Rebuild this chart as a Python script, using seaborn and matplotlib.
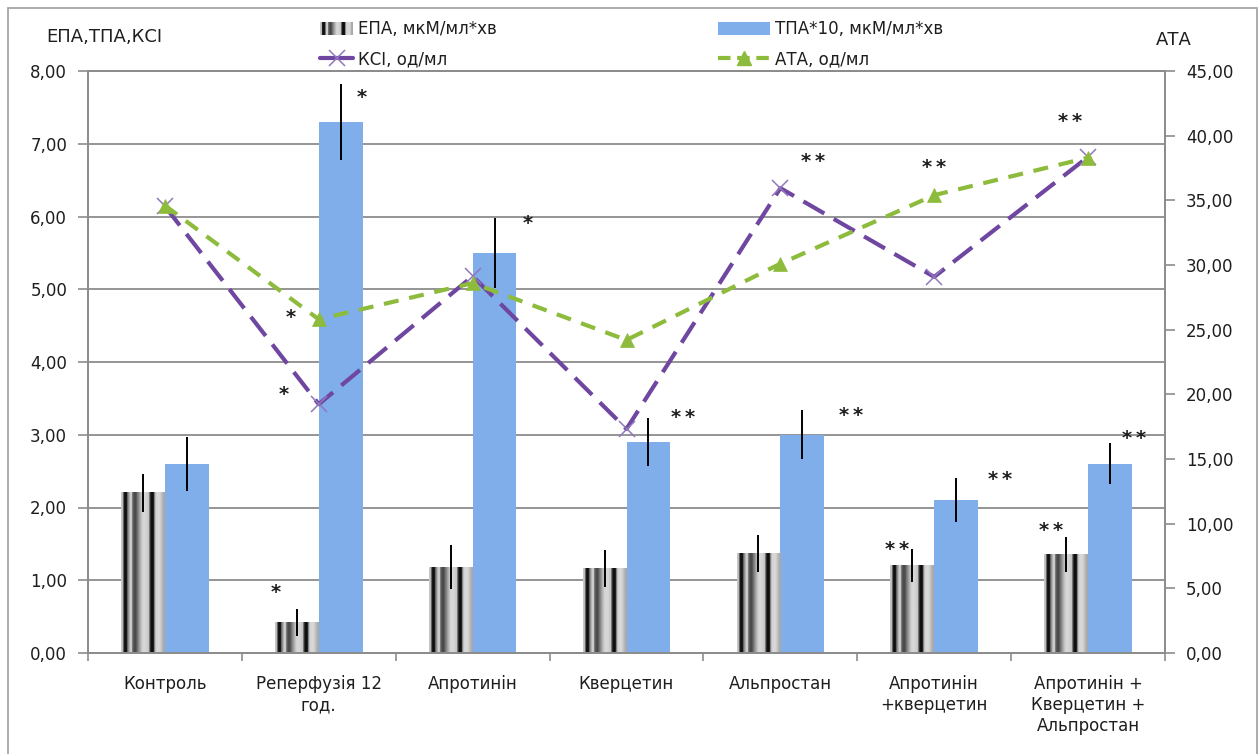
import numpy as np
import pandas as pd
import matplotlib
matplotlib.use("Agg")
import matplotlib.pyplot as plt
import seaborn as sns
from matplotlib.patches import Rectangle
from matplotlib.lines import Line2D
from matplotlib.legend_handler import HandlerBase
from matplotlib.ticker import FuncFormatter, MultipleLocator

# ---- data -------------------------------------------------------------
groups = ["Контроль", "Реперфузія 12\nгод.", "Апротинін", "Кверцетин",
          "Альпростан", "Апротинін\n+кверцетин",
          "Апротинін +\nКверцетин +\nАльпростан"]
epa = [2.20, 0.42, 1.18, 1.16, 1.37, 1.20, 1.35]
epa_err = [0.26, 0.19, 0.30, 0.25, 0.25, 0.23, 0.24]
tpa10 = [2.60, 7.30, 5.50, 2.90, 3.00, 2.10, 2.60]
tpa10_err = [0.37, 0.52, 0.48, 0.33, 0.34, 0.30, 0.28]
ksi = [6.14, 3.42, 5.18, 3.08, 6.39, 5.17, 6.82]
ata = [34.6, 25.8, 28.6, 24.2, 30.1, 35.4, 38.3]

series_names = ["ЕПА, мкМ/мл*хв", "ТПА*10, мкМ/мл*хв", "КСІ, од/мл", "АТА, од/мл"]

# significance marks: (x, y on left axis, text)
marks_x = [0.72, 1.28, 0.77, 0.82, 2.36, 3.37, 4.21, 4.46, 4.76, 5.43, 5.00, 5.76, 6.30, 5.88]
marks_y = [0.83, 7.64, 3.55, 4.61, 5.91, 3.24, 6.75, 3.26, 1.42, 2.38, 6.67, 1.69, 2.95, 7.31]
marks_t = ["*", "*", "*", "*", "*", "**", "**", "**", "**", "**", "**", "**", "**", "**"]

# ---- style ------------------------------------------------------------
sns.set_theme(style="white")
plt.rcParams["font.family"] = ["DejaVu Sans"]
TXT = "#1e1e1e"
GRID = "#8c8c8c"
BLUE = "#7FAEEA"
PURPLE = "#6F46A0"
PURPLE_MK = "#9277BE"
GREEN = "#8DBB3C"

# grey levels of the striped fill, left to right across one bar
stripe = np.array([0.78, 0.72, 0.12, 0.06, 0.10, 0.45, 0.62, 0.80, 0.82, 0.45,
                   0.32, 0.28, 0.33, 0.45, 0.55, 0.66, 0.74, 0.82, 0.84, 0.84,
                   0.83, 0.80, 0.78, 0.40, 0.08, 0.05, 0.08, 0.55, 0.82, 0.84,
                   0.85, 0.84, 0.80, 0.74, 0.68, 0.66])

fig = plt.figure(figsize=(12.6, 7.54), dpi=100)
ax = fig.add_axes([88 / 1260, 1 - 653 / 754, (1165 - 88) / 1260, (653 - 71) / 754])

df = pd.DataFrame({
    "group": groups * 2,
    "series": [series_names[0]] * len(groups) + [series_names[1]] * len(groups),
    "value": epa + tpa10,
})
sns.barplot(data=df, x="group", y="value", hue="series",
            palette=["#bfbfbf", BLUE], width=0.57, gap=0, saturation=1,
            errorbar=None, legend=False, ax=ax, zorder=2,
            edgecolor="none", linewidth=0)

epa_bars = ax.containers[0]
tpa_bars = ax.containers[1]

# striped fill on the ЕПА bars
for bar in epa_bars:
    x0, w, h = bar.get_x(), bar.get_width(), bar.get_height()
    ax.imshow(stripe[None, :], cmap="gray", vmin=0, vmax=1,
              extent=(x0, x0 + w, 0, h), aspect="auto",
              interpolation="bilinear", zorder=2.1)

# error bars
epa_x = [b.get_x() + b.get_width() / 2 for b in epa_bars]
tpa_x = [b.get_x() + b.get_width() / 2 for b in tpa_bars]
ax.errorbar(epa_x, epa, yerr=epa_err, fmt="none", ecolor="black",
            elinewidth=1.4, capsize=0, zorder=4)
ax.errorbar(tpa_x, tpa10, yerr=tpa10_err, fmt="none", ecolor="black",
            elinewidth=1.4, capsize=0, zorder=4)

xpos = np.arange(len(groups))
sns.lineplot(x=xpos, y=ksi, ax=ax, color=PURPLE, lw=3.0,
             linestyle=(0, (5.8, 2.6)), marker="x", markersize=11,
             markeredgecolor=PURPLE_MK, markeredgewidth=1.1, zorder=5)

ax2 = ax.twinx()
sns.lineplot(x=xpos, y=ata, ax=ax2, color=GREEN, lw=3.0,
             linestyle=(0, (3.6, 2.6)), marker="^", markersize=10,
             markerfacecolor=GREEN, markeredgecolor=GREEN,
             markeredgewidth=0.5, zorder=5)

# ---- axes -------------------------------------------------------------
ax.set_xlim(-0.5, len(groups) - 0.5)
ax.set_ylim(0, 8)
ax2.set_ylim(0, 45)
ax.yaxis.set_major_locator(MultipleLocator(1))
ax2.yaxis.set_major_locator(MultipleLocator(5))
fmt = FuncFormatter(lambda v, p: f"{v:.2f}".replace(".", ","))
ax.yaxis.set_major_formatter(fmt)
ax2.yaxis.set_major_formatter(fmt)

ax.set_xticks(xpos)
ax.set_xticklabels(groups, fontsize=12, color=TXT)
ax.set_xticks(np.arange(-0.5, len(groups), 1), minor=True)
ax.tick_params(axis="x", which="major", length=0, pad=16)
ax.tick_params(axis="x", which="minor", length=6, width=1.2, color=GRID,
               direction="out", bottom=True)
ax.tick_params(axis="y", length=7, width=1.2, color=GRID, direction="out",
               left=True, pad=8, labelsize=12, labelcolor=TXT)
ax2.tick_params(axis="y", length=7, width=1.2, color=GRID, direction="out",
                right=True, pad=8, labelsize=12, labelcolor=TXT)

ax.set_xlabel("")
ax.set_ylabel("")
ax2.set_xlabel("")
ax2.set_ylabel("")

ax.yaxis.grid(True, color=GRID, lw=1.3)
ax.set_axisbelow(True)
for a in (ax, ax2):
    for s in a.spines.values():
        s.set_color(GRID)
        s.set_linewidth(1.3)

# significance marks
for mx, my, mt in zip(marks_x, marks_y, marks_t):
    ax.text(mx, my, "\u2009".join(mt), ha="center", va="center", fontsize=14,
            fontweight="bold", color=TXT, zorder=6)

# axis titles
fig.text(104 / 1260, 1 - 37 / 754, "ЕПА,ТПА,КСІ", ha="center", va="center",
         fontsize=13, color=TXT)
fig.text(1174 / 1260, 1 - 40 / 754, "АТА", ha="center", va="center",
         fontsize=13, color=TXT)


# ---- legend -----------------------------------------------------------
class StripeHandler(HandlerBase):
    def create_artists(self, legend, orig_handle, xdescent, ydescent,
                       width, height, fontsize, trans):
        n = len(stripe)
        sw = width / n
        arts = []
        for i, g in enumerate(stripe):
            arts.append(Rectangle((-xdescent + i * sw, -ydescent), sw * 1.05,
                                  height, facecolor=(g, g, g), edgecolor="none",
                                  transform=trans))
        return arts


epa_handle = Rectangle((0, 0), 1, 1, facecolor="#bfbfbf")
tpa_handle = Rectangle((0, 0), 1, 1, facecolor=BLUE, edgecolor="none")
ksi_handle = Line2D([], [], color=PURPLE, lw=3.0, marker="x", markersize=11,
                    markeredgecolor=PURPLE_MK, markeredgewidth=1.1)
ata_handle = Line2D([], [], color=GREEN, lw=3.0, linestyle=(0, (3.0, 1.6)),
                    marker="^", markersize=10, markerfacecolor=GREEN,
                    markeredgecolor=GREEN)

leg1 = fig.legend([epa_handle, ksi_handle], [series_names[0], series_names[2]],
                  loc="upper left", bbox_to_anchor=(305 / 1260, 1 - 5 / 754),
                  frameon=False, handlelength=2.0, handleheight=0.8,
                  handletextpad=0.3, labelspacing=0.75, fontsize=12,
                  labelcolor=TXT, handler_map={epa_handle: StripeHandler()})
leg2 = fig.legend([tpa_handle, ata_handle], [series_names[1], series_names[3]],
                  loc="upper left", bbox_to_anchor=(703 / 1260, 1 - 5 / 754),
                  frameon=False, handlelength=3.1, handleheight=0.8,
                  handletextpad=0.3, labelspacing=0.75, fontsize=12,
                  labelcolor=TXT)

# outer frame of the chart
fig.patches.append(Rectangle((8 / 1260, -0.05), (1257 - 8) / 1260,
                             1 - 8 / 754 + 0.05, transform=fig.transFigure,
                             fill=False, edgecolor="#a6a6a6", lw=1.3))

fig.savefig("out.png", dpi=100, facecolor="white")
